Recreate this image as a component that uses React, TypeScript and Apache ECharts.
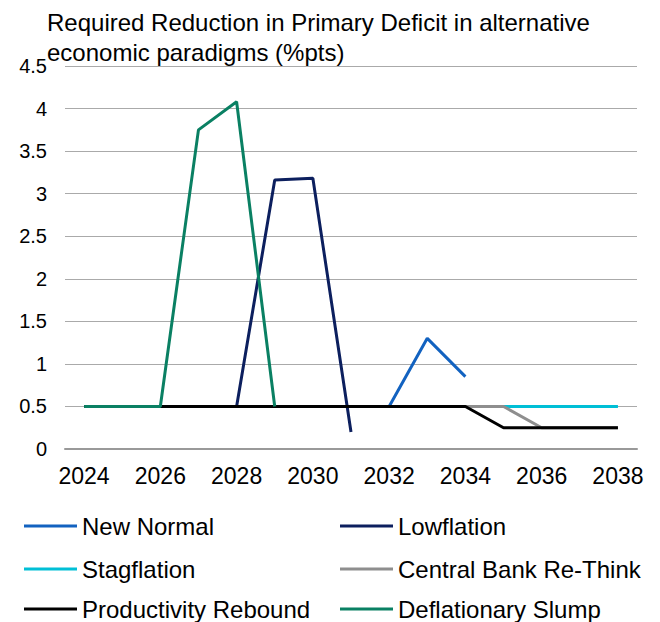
import React, { useEffect, useRef } from "react";
import * as echarts from "echarts";

const years = ["2024","2025","2026","2027","2028","2029","2030","2031","2032","2033","2034","2035","2036","2037","2038"];
const newNormal = [0.5,0.5,0.5,0.5,0.5,0.5,0.5,0.5,0.5,1.3,0.85,null,null,null,null];
const lowflation = [0.5,0.5,0.5,0.5,0.5,3.16,3.18,0.2,null,null,null,null,null,null,null];
const stagflation = [0.5,0.5,0.5,0.5,0.5,0.5,0.5,0.5,0.5,0.5,0.5,0.5,0.5,0.5,0.5];
const centralBank = [0.5,0.5,0.5,0.5,0.5,0.5,0.5,0.5,0.5,0.5,0.5,0.5,0.25,0.25,0.25];
const productivity = [0.5,0.5,0.5,0.5,0.5,0.5,0.5,0.5,0.5,0.5,0.5,0.25,0.25,0.25,0.25];
const deflationary = [0.5,0.5,0.5,3.75,4.08,0.5,null,null,null,null,null,null,null,null,null];
const yTicks = ["0","0.5","1","1.5","2","2.5","3","3.5","4","4.5"];

const seriesNames = ["New Normal","Lowflation","Stagflation","Central Bank Re-Think","Productivity Rebound","Deflationary Slump"];
const seriesData = [newNormal, lowflation, stagflation, centralBank, productivity, deflationary];
const colors = ["#1262c0","#0c1f5e","#00bfd6","#8e8e8e","#000000","#0a8063"];

const FONT = "Liberation Sans, Arial, sans-serif";

export default function App() {
  const ref = useRef<HTMLDivElement>(null);
  useEffect(() => {
    if (!ref.current) return;
    const chart = echarts.init(ref.current, undefined, { renderer: "svg" });
    const legendPos = [
      { left: 24, top: 514 },
      { left: 340, top: 514 },
      { left: 24, top: 557 },
      { left: 340, top: 557 },
      { left: 24, top: 597 },
      { left: 340, top: 597 },
    ];
    chart.setOption({
      animation: false,
      backgroundColor: "#ffffff",
      textStyle: { fontFamily: FONT },
      title: {
        text: "Required Reduction in Primary Deficit in alternative\neconomic paradigms (%pts)",
        left: 47,
        top: 7,
        padding: 0,
        textStyle: { fontFamily: FONT, fontSize: 24, fontWeight: "normal", color: "#000", lineHeight: 30 },
      },
      grid: { left: 65, right: 23, top: 66, bottom: 173, outerBoundsMode: "none", containLabel: false },
      legend: seriesNames.map((n, i) => ({
        data: [n],
        left: legendPos[i].left,
        top: legendPos[i].top,
        icon: "rect",
        itemWidth: 53,
        itemHeight: 3,
        padding: 0,
        textStyle: { fontFamily: FONT, fontSize: 24, color: "#000" },
      })),
      xAxis: {
        type: "category",
        data: years,
        boundaryGap: true,
        axisLine: { show: true, lineStyle: { color: "#999", width: 2 } },
        axisTick: { show: false },
        axisLabel: { interval: 1, fontFamily: FONT, fontSize: 23, color: "#000", margin: 15 },
        splitLine: { show: false },
      },
      yAxis: {
        type: "value",
        min: 0,
        max: 4.5,
        interval: 0.5,
        axisLine: { show: false },
        axisTick: { show: false },
        axisLabel: {
          fontFamily: FONT,
          fontSize: 20,
          color: "#000",
          margin: 18,
          formatter: (v: number) => yTicks[Math.round(v / 0.5)] ?? String(v),
        },
        splitLine: { show: true, lineStyle: { color: "#aaaaaa", width: 1 } },
      },
      series: seriesNames.map((n, i) => ({
        name: n,
        type: "line",
        data: seriesData[i],
        symbol: "none",
        connectNulls: false,
        lineStyle: { color: colors[i], width: 3 },
        itemStyle: { color: colors[i] },
      })),
    });
    return () => chart.dispose();
  }, []);
  return <div ref={ref} style={{ position: "absolute", left: 0, top: 0, width: 660, height: 622 }} />;
}
